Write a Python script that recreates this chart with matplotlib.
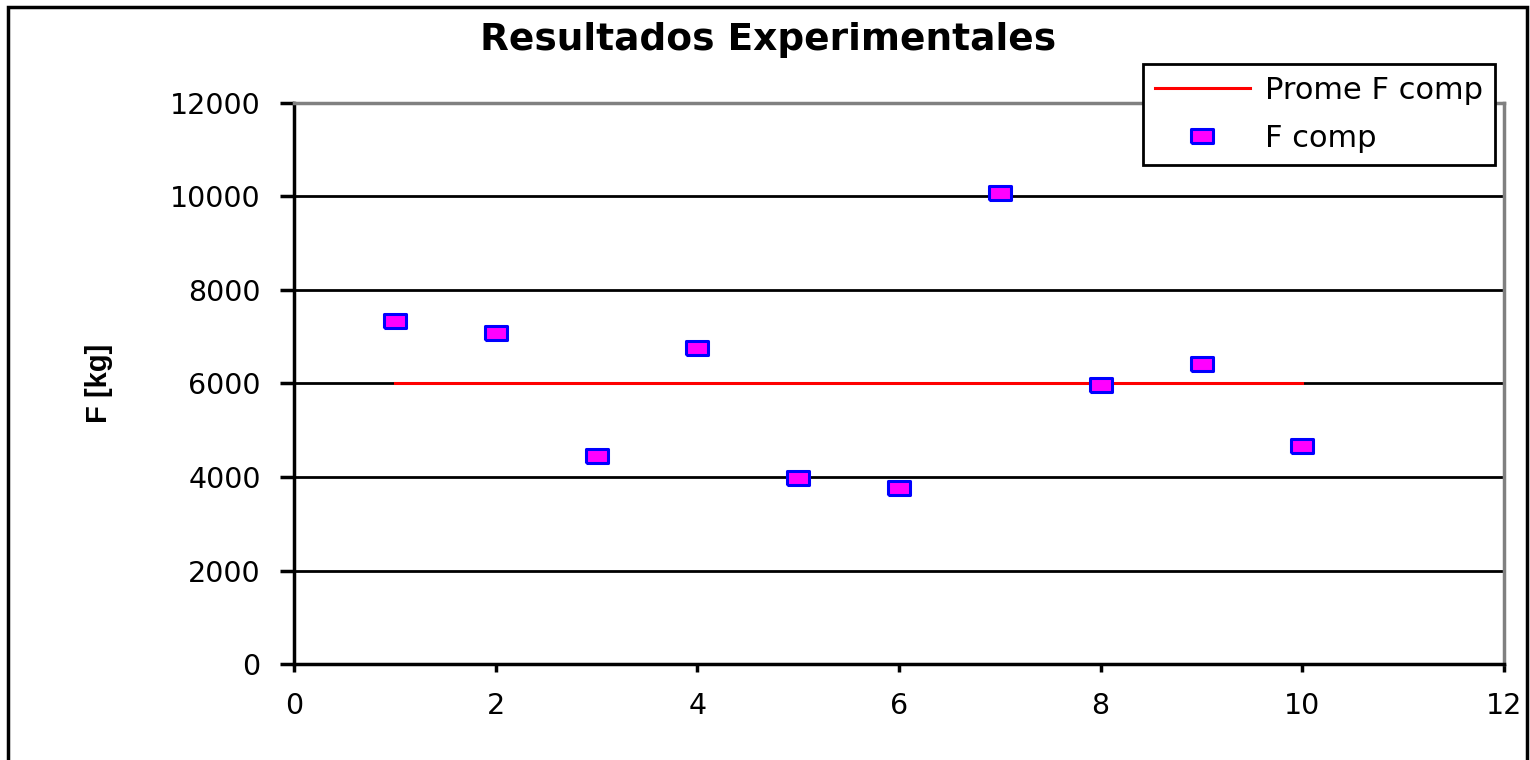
import matplotlib
matplotlib.use("Agg")
import matplotlib.pyplot as plt
from matplotlib.patches import Rectangle

# Data
ensayo = [1, 2, 3, 4, 5, 6, 7, 8, 9, 10]
f_comp = [7340, 7080, 4450, 6760, 3980, 3770, 10070, 5970, 6420, 4660]
prome_x = [1, 10]
prome_f = [6010, 6010]
xticks = [0, 2, 4, 6, 8, 10, 12]
yticks = [0, 2000, 4000, 6000, 8000, 10000, 12000]

plt.rcParams['font.family'] = ['DejaVu Sans']

fig = plt.figure(figsize=(15.3, 7.6), dpi=100)
ax = fig.add_axes([0.1922, 0.1263, 0.983 - 0.1922, 0.8645 - 0.1263])

# frame around figure
fig.patches.append(Rectangle((0.0052, -0.05), 0.9928, 0.9958 + 0.05 - 0.005,
                             transform=fig.transFigure, fill=False,
                             edgecolor='black', linewidth=2.5, zorder=0))

ax.set_xlim(0, 12)
ax.set_ylim(0, 12000)
ax.set_xticks(xticks)
ax.set_yticks(yticks)
for y in yticks[1:-1]:
    ax.axhline(y, color='black', linewidth=2, zorder=1)

ax.plot(prome_x, prome_f, color='red', linewidth=2.2, label='Prome F comp', zorder=2)
rect = [(-1.5, -1), (1.5, -1), (1.5, 1), (-1.5, 1), (-1.5, -1)]
ax.plot(ensayo, f_comp, linestyle='none', marker=rect, markersize=16,
        markerfacecolor='#ff00ff', markeredgecolor='#0000ff', markeredgewidth=2.2,
        label='F comp', zorder=3)

for s in ['top', 'right']:
    ax.spines[s].set_color('#808080')
    ax.spines[s].set_linewidth(2.5)
for s in ['left', 'bottom']:
    ax.spines[s].set_color('black')
    ax.spines[s].set_linewidth(2.5)

ax.tick_params(axis='y', direction='out', length=10, width=2.5, pad=14, labelsize=20.5)
ax.tick_params(axis='x', direction='out', length=6, width=2.5, pad=14, labelsize=20.5)

ax.set_ylabel('F [kg]', fontsize=21, fontweight='bold',
              family=['Liberation Sans', 'DejaVu Sans'])
ax.yaxis.set_label_coords(-0.150, 0.5)

fig.text(0.502, 0.948, 'Resultados Experimentales', ha='center', va='center',
         fontsize=27, fontweight='bold')

leg = fig.legend(loc='upper left', bbox_to_anchor=(0.747, 0.916), fontsize=22,
                 frameon=True, fancybox=False, edgecolor='black', framealpha=1,
                 borderpad=0.4, borderaxespad=0, handlelength=3.1,
                 handletextpad=0.5, labelspacing=0.62)
leg.get_frame().set_linewidth(2)

fig.savefig('out.png', dpi=100)
